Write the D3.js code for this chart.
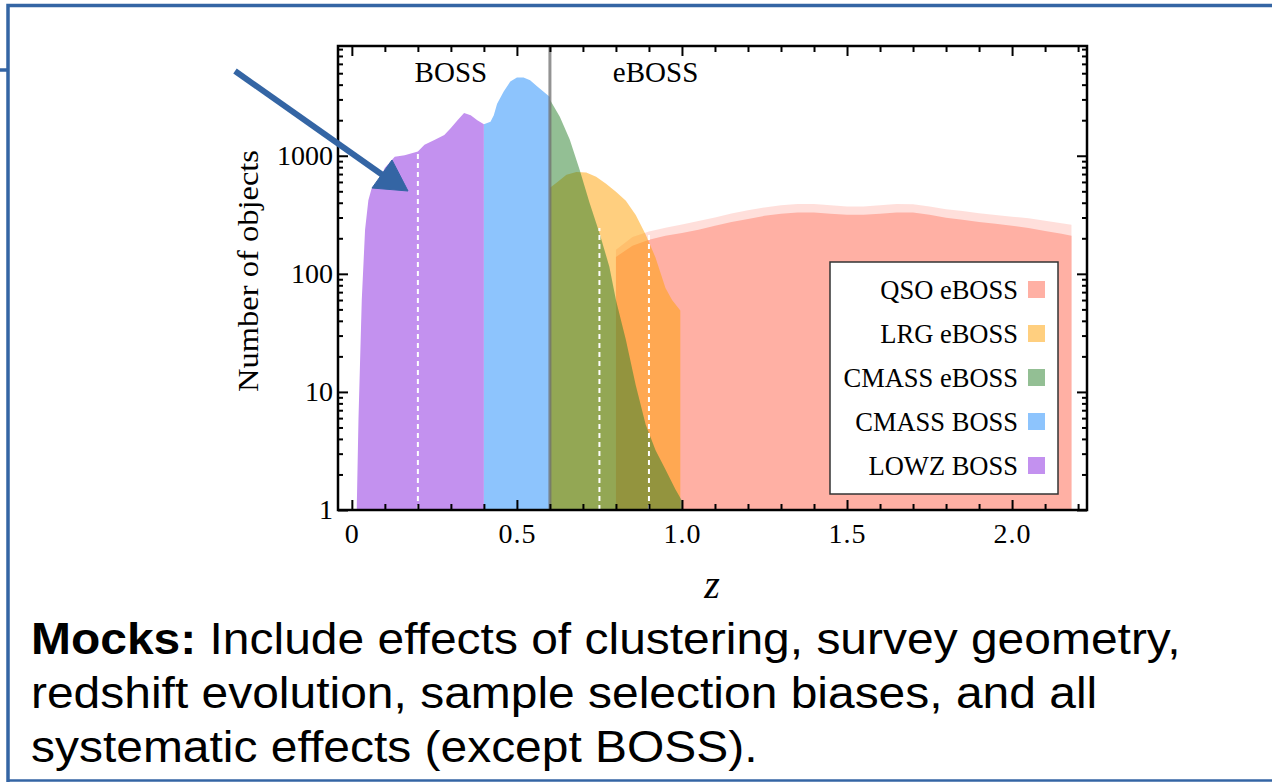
<!DOCTYPE html>
<html>
<head>
<meta charset="utf-8">
<script src="https://cdn.jsdelivr.net/npm/d3@7"></script>
<style>
  body { margin: 0; background: #fff; }
  svg { display: block; }
</style>
</head>
<body>
<svg id="chart" width="1272" height="782"></svg>
<script>
// redshift samples (z) and counts
const lowzZ = [0.015, 0.02, 0.03, 0.04, 0.05, 0.06, 0.07, 0.08, 0.10, 0.13, 0.16, 0.20, 0.22, 0.25, 0.28, 0.30, 0.32, 0.34, 0.36, 0.38, 0.40];
const lowzN = [1.1, 5.8, 60, 236, 420, 530, 565, 600, 790, 980, 1010, 1085, 1240, 1360, 1500, 1720, 2000, 2300, 2200, 2000, 1850];

const cmassBossZ = [0.40, 0.42, 0.43, 0.44, 0.46, 0.48, 0.50, 0.52, 0.54, 0.56, 0.58, 0.60];
const cmassBossN = [1850, 1940, 2200, 2750, 3500, 4250, 4600, 4600, 4350, 3900, 3500, 3150];

const cmassEbossZ = [0.60, 0.63, 0.66, 0.69, 0.72, 0.75, 0.78, 0.80, 0.83, 0.86, 0.89, 0.92, 0.95, 0.98, 1.00];
const cmassEbossN = [2985, 2140, 1370, 760, 400, 222, 115, 60, 27.6, 11.4, 5.3, 3.2, 2.2, 1.5, 1.2];

const lrgZ = [0.60, 0.62, 0.65, 0.68, 0.71, 0.74, 0.77, 0.80, 0.83, 0.86, 0.89, 0.92, 0.95, 0.97, 0.995];
const lrgN = [535, 590, 690, 730, 720, 665, 580, 495, 415, 315, 215, 137, 76, 60, 49];

const qsoZ = [0.80, 0.85, 0.90, 0.95, 1.00, 1.05, 1.10, 1.15, 1.20, 1.25, 1.30, 1.35, 1.40, 1.45, 1.50,
              1.55, 1.60, 1.65, 1.70, 1.75, 1.80, 1.85, 1.90, 1.95, 2.00, 2.05, 2.10, 2.15, 2.18];
const qsoN = [139, 173, 194, 210, 222, 236, 255, 275, 292, 310, 322, 330, 330, 322, 316,
              316, 322, 330, 330, 316, 298, 287, 275, 265, 255, 245, 231, 218, 210];
// upper edge of the noisy QSO spikes
const qsoSpikeN = [160, 205, 228, 246, 262, 280, 300, 325, 345, 365, 380, 390, 390, 380, 372,
                   372, 380, 390, 388, 372, 352, 340, 326, 315, 305, 295, 282, 268, 260];

const legendNames = ["QSO eBOSS", "LRG eBOSS", "CMASS eBOSS", "CMASS BOSS", "LOWZ BOSS"];
const legendColors = ["#ffb0a4", "#ffcf7f", "#93bf94", "#8dc4fd", "#c391ef"];

const dashZ = [0.2, 0.75, 0.9];
const dashTop = [1080, 245, 215];

const xMajor = [0, 0.5, 1.0, 1.5, 2.0];
const yMajor = [1, 10, 100, 1000];

const captionLines = [
  ["Mocks:", " Include effects of clustering, survey geometry,"],
  ["", "redshift evolution, sample selection biases, and all"],
  ["", "systematic effects (except BOSS)."]
];

const svg = d3.select("#chart");
const pLeft = 338, pRight = 1087, pTop = 46, pBottom = 510;

const x = d3.scaleLinear().domain([-0.042, 2.227]).range([pLeft, pRight]);
const y = d3.scaleLog().domain([1, 8500]).range([pBottom, pTop]);

// outer slide frame
const frame = svg.append("g").attr("stroke", "#3465a4").attr("fill", "none");
frame.append("path").attr("d", "M8,782V5.5H1272").attr("stroke-width", 3.5);
frame.append("path").attr("d", "M0,70H8").attr("stroke-width", 3.5);
frame.append("path").attr("d", "M8,780.5H1272").attr("stroke-width", 2.5);

svg.append("defs").append("clipPath").attr("id", "plotclip")
  .append("rect").attr("x", pLeft).attr("y", pTop).attr("width", pRight - pLeft).attr("height", pBottom - pTop);

const plot = svg.append("g").attr("clip-path", "url(#plotclip)");

function hist(zs, ns, color, opacity) {
  const pts = zs.map((z, i) => [z, ns[i]]);
  const area = d3.area().x(d => x(d[0])).y0(y(1)).y1(d => y(d[1]));
  plot.append("path").datum(pts).attr("d", area)
    .attr("fill", color).attr("fill-opacity", opacity);
}

hist(lowzZ, lowzN, "#c391ef", 1);
hist(cmassBossZ, cmassBossN, "#8dc4fd", 1);
hist(qsoZ, qsoSpikeN, "#ffb0a4", 0.4);
hist(qsoZ, qsoN, "#ffb0a4", 1);
hist(lrgZ, lrgN, "#ff9f00", 0.5);
hist(cmassEbossZ, cmassEbossN, "#278029", 0.5);

// white dashed markers
plot.selectAll("line.dash").data(dashZ).join("line")
  .attr("class", "dash")
  .attr("x1", d => x(d)).attr("x2", d => x(d))
  .attr("y1", y(1)).attr("y2", (d, i) => y(dashTop[i]))
  .attr("stroke", "#fff").attr("stroke-width", 2).attr("stroke-dasharray", "5,4");

// BOSS / eBOSS divider
plot.append("line")
  .attr("x1", x(0.6)).attr("x2", x(0.6)).attr("y1", pTop).attr("y2", pBottom)
  .attr("stroke", "#6f6f6f").attr("stroke-opacity", 0.75).attr("stroke-width", 3);

// axes with inward ticks
const xMinor = d3.range(0, 23, 1).map(d => d / 10).filter(d => !xMajor.includes(d));
const yMinor = [];
[1, 10, 100, 1000].forEach(p => { for (let k = 2; k <= 9; k++) if (p * k <= 8500) yMinor.push(p * k); });

const fmtX = d => d === 0 ? "0" : d.toFixed(1);
const font = "'Liberation Serif', 'Times New Roman', serif";

function styleAxis(g) {
  g.select(".domain").remove();
  g.selectAll("line").attr("stroke", "#000").attr("stroke-width", 2);
  g.selectAll("text").attr("font-family", font).attr("font-size", 28).attr("fill", "#000");
}

svg.append("g").attr("transform", `translate(0,${pBottom})`)
  .call(d3.axisBottom(x).tickValues(xMajor).tickFormat(fmtX).tickSize(-10).tickPadding(13))
  .call(styleAxis)
  .call(g => g.selectAll("text").attr("letter-spacing", 1));
svg.append("g").attr("transform", `translate(0,${pBottom})`)
  .call(d3.axisBottom(x).tickValues(xMinor).tickFormat("").tickSize(-6))
  .call(styleAxis);
svg.append("g").attr("transform", `translate(0,${pTop})`)
  .call(d3.axisTop(x).tickValues(xMajor).tickFormat("").tickSize(-10))
  .call(styleAxis);
svg.append("g").attr("transform", `translate(0,${pTop})`)
  .call(d3.axisTop(x).tickValues(xMinor).tickFormat("").tickSize(-6))
  .call(styleAxis);

svg.append("g").attr("transform", `translate(${pLeft},0)`)
  .call(d3.axisLeft(y).tickValues(yMajor).tickFormat(d3.format("d")).tickSize(-10).tickPadding(5))
  .call(styleAxis);
svg.append("g").attr("transform", `translate(${pLeft},0)`)
  .call(d3.axisLeft(y).tickValues(yMinor).tickFormat("").tickSize(-5))
  .call(styleAxis);
svg.append("g").attr("transform", `translate(${pRight},0)`)
  .call(d3.axisRight(y).tickValues(yMajor).tickFormat("").tickSize(-10))
  .call(styleAxis);
svg.append("g").attr("transform", `translate(${pRight},0)`)
  .call(d3.axisRight(y).tickValues(yMinor).tickFormat("").tickSize(-5))
  .call(styleAxis);

svg.append("rect").attr("x", pLeft).attr("y", pTop).attr("width", pRight - pLeft).attr("height", pBottom - pTop)
  .attr("fill", "none").attr("stroke", "#000").attr("stroke-width", 2.5);

// region labels
svg.append("text").attr("x", x(0.3)).attr("y", 82).attr("text-anchor", "middle")
  .attr("font-family", font).attr("font-size", 29).text("BOSS");
svg.append("text").attr("x", x(0.92)).attr("y", 82).attr("text-anchor", "middle")
  .attr("font-family", font).attr("font-size", 29).text("eBOSS");

// axis titles
svg.append("text").attr("transform", "translate(258,271) rotate(-90)").attr("text-anchor", "middle")
  .attr("font-family", font).attr("font-size", 29)
  .attr("textLength", 242).attr("lengthAdjust", "spacingAndGlyphs").text("Number of objects");
svg.append("text").attr("x", 712).attr("y", 598).attr("text-anchor", "middle")
  .attr("font-family", font).attr("font-style", "italic").attr("font-size", 40).text("z");

// legend
const lg = svg.append("g");
lg.append("rect").attr("x", 830).attr("y", 262).attr("width", 228).attr("height", 232)
  .attr("fill", "#fff").attr("stroke", "#333").attr("stroke-width", 1.5);
const rows = lg.selectAll("g.row").data(legendNames).join("g")
  .attr("class", "row").attr("transform", (d, i) => `translate(0,${290 + i * 44})`);
rows.append("text").attr("x", 1018).attr("y", 9).attr("text-anchor", "end")
  .attr("font-family", font).attr("font-size", 26.5).text(d => d);
rows.append("rect").attr("x", 1028).attr("y", -9).attr("width", 17).attr("height", 17)
  .attr("fill", (d, i) => legendColors[i]);

// pointer arrow
const arrow = svg.append("g").attr("fill", "#3465a4").attr("stroke", "#3465a4");
arrow.append("line").attr("x1", 235).attr("y1", 71).attr("x2", 384).attr("y2", 176).attr("stroke-width", 6);
arrow.append("path").attr("d", "M408,191L372,188L392,160Z").attr("stroke-width", 1);

// caption
const capG = svg.append("g").attr("transform", "scale(1.09,1)");
captionLines.forEach((ln, i) => {
  const t = capG.append("text").attr("x", 31 / 1.09).attr("y", 654 + i * 54)
    .attr("font-family", "'Liberation Sans', Arial, sans-serif")
    .attr("font-size", 44).attr("fill", "#000");
  if (ln[0]) t.append("tspan").attr("font-weight", "bold").text(ln[0]);
  t.append("tspan").text(ln[1]);
});
</script>
</body>
</html>
